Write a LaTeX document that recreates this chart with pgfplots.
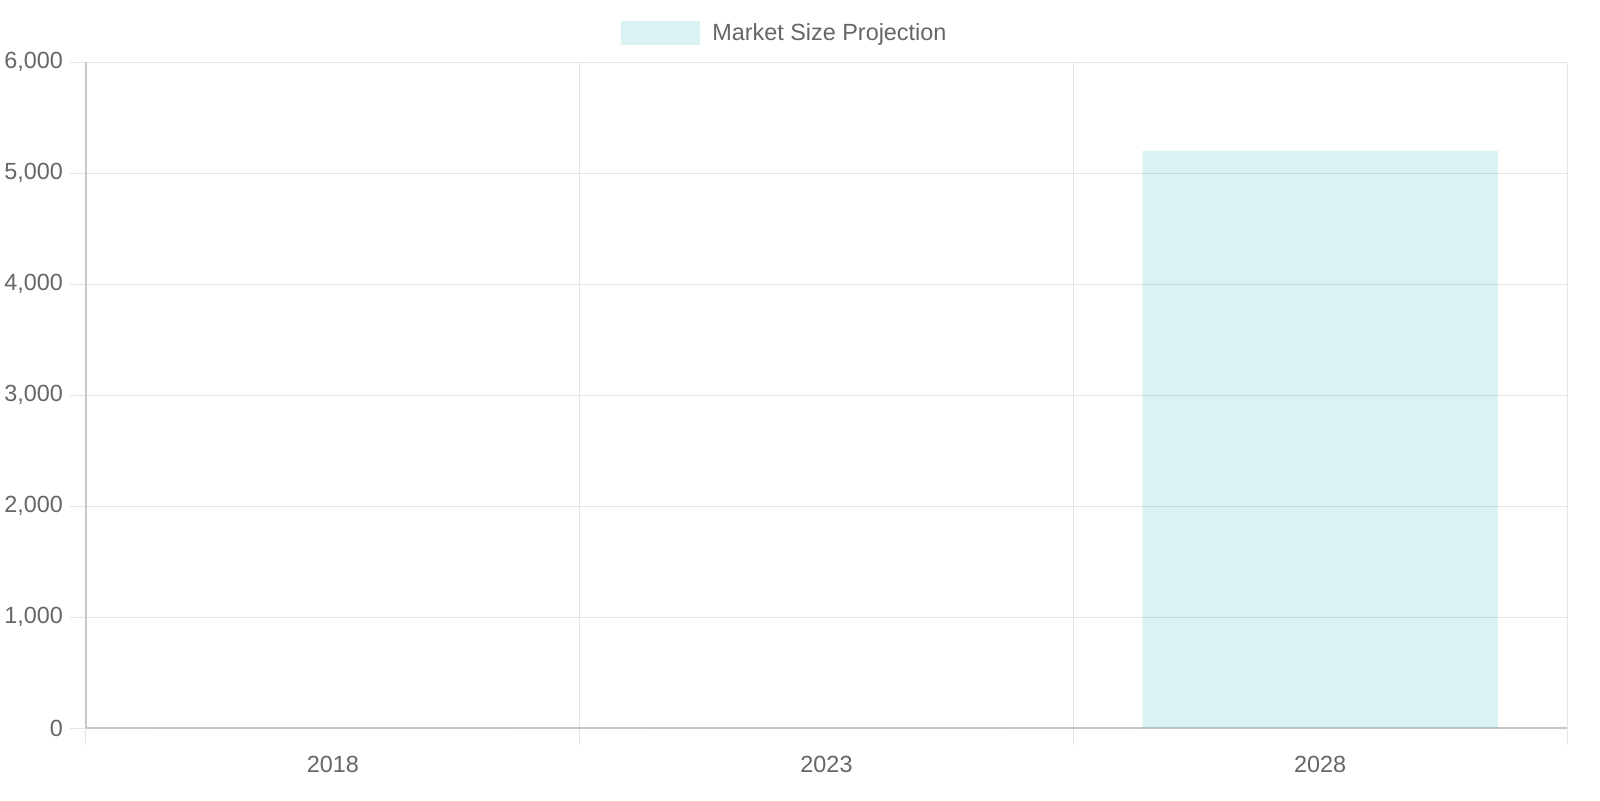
\documentclass[border=0pt]{standalone}
\usepackage{fontspec}
\setmainfont{Liberation Sans}
\usepackage{pgfplots}
\pgfplotsset{compat=1.18}

\definecolor{txtgray}{RGB}{102,102,102}
\definecolor{gridgray}{RGB}{229,229,229}
\definecolor{axisgray}{RGB}{200,200,200}
\definecolor{barteal}{RGB}{75,192,192}

\begin{document}
\begin{tikzpicture}
\begin{axis}[
  at={(0,0)}, anchor=south west,
  scale only axis,
  width=740.5pt, height=333pt,
  xmin=-0.5, xmax=2.5,
  ymin=0, ymax=6000,
  xtick={0,1,2},
  xticklabels={2018,2023,2028},
  minor xtick={-0.5,0.5,1.5,2.5},
  ytick={0,1000,...,6000},
  axis x line=bottom, axis y line=left,
  axis line style={draw=axisgray, line width=0.9pt, -},
  xmajorgrids=false, xminorgrids=true, ymajorgrids=true,
  major grid style={draw=gridgray, line width=0.5pt},
  minor grid style={draw=gridgray, line width=0.5pt},
  tick align=outside,
  major tick length=8pt, minor tick length=8.5pt,
  major x tick style={draw=none},
  minor x tick style={draw=gridgray, line width=0.5pt},
  ytick style={draw=gridgray, line width=0.5pt},
  tick label style={font=\fontsize{11.7}{14}\selectfont, text=txtgray},
  xticklabel style={yshift=-2.5pt},
  /pgf/number format/.cd, 1000 sep={,}, assume math mode=true,
  /pgfplots/.cd,
  ybar, bar width=0.72,
  legend style={at={(axis description cs:0.3612,1.043)}, anchor=west,
    draw=none, fill=none, font=\fontsize{11.7}{14}\selectfont, text=txtgray,
    inner sep=0pt},
  legend image code/.code={
    \fill[barteal, fill opacity=0.2] (0pt,-6pt) rectangle (39.5pt,6pt);},
]
\addplot[draw=none, fill=barteal, fill opacity=0.2]
  coordinates {(0,0) (1,0) (2,5200)};
\addlegendentry{\hspace{4pt}Market Size Projection}
\end{axis}
\pgfresetboundingbox
\useasboundingbox (-43pt,-36pt) rectangle (757pt,364pt);
\end{tikzpicture}
\end{document}
